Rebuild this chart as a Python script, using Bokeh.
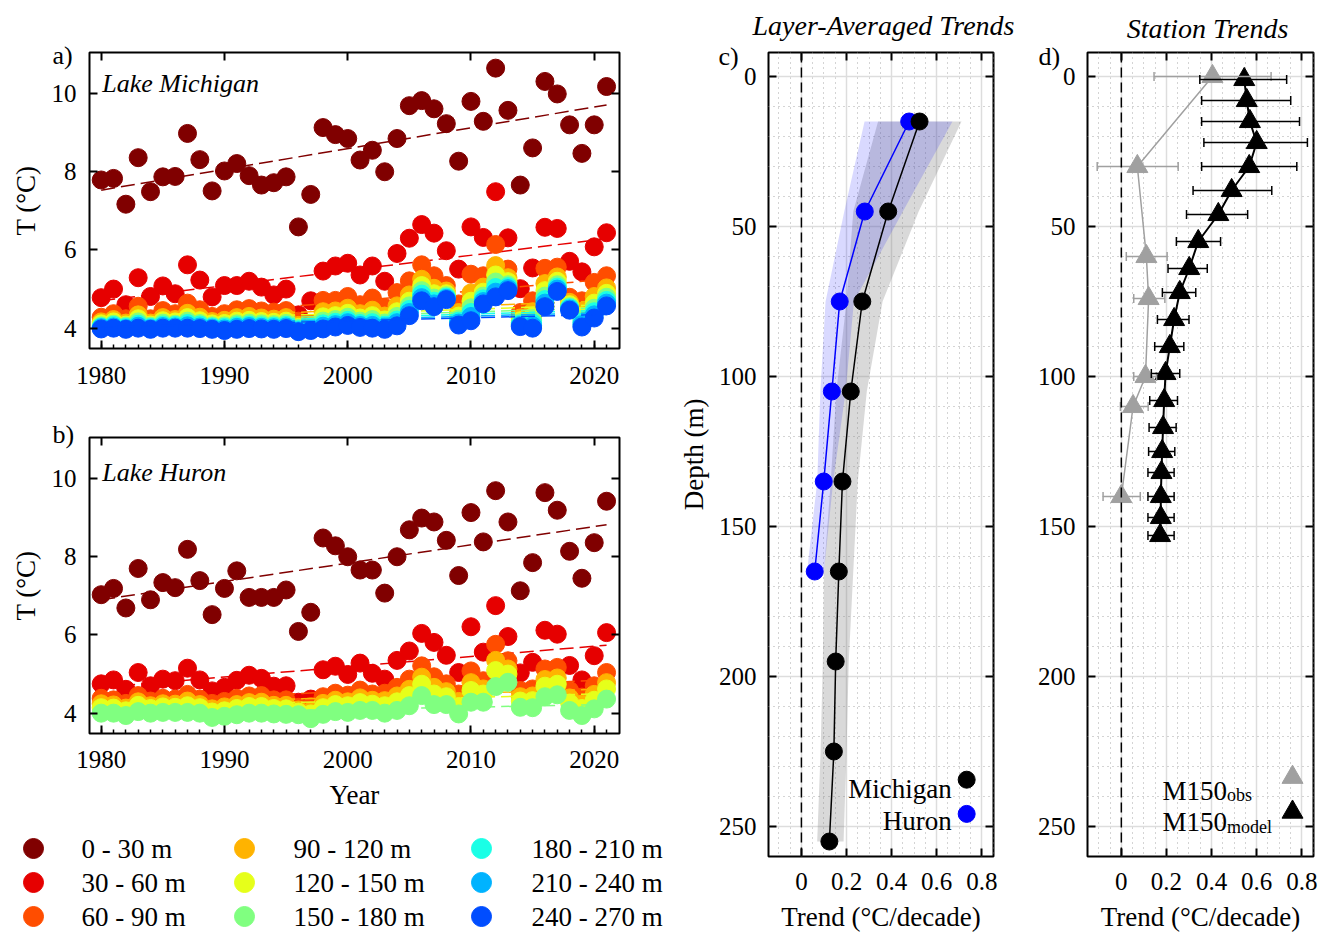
from bokeh.plotting import figure
from bokeh.models import (Range1d, FixedTicker, LinearAxis, Label, Span, Whisker,
                          ColumnDataSource, TeeHead)
from bokeh.layouts import row, column
from bokeh.embed import file_html
from bokeh.resources import INLINE
from bokeh.core.properties import value

FONT = "Liberation Serif"

# ------------------------------------------------------------------ data
YEARS = list(range(1980, 2022))
TREND_YEARS = [1980, 2021]
LAYER_NAMES = ["0 - 30 m", "30 - 60 m", "60 - 90 m", "90 - 120 m", "120 - 150 m",
               "150 - 180 m", "180 - 210 m", "210 - 240 m", "240 - 270 m"]
LAYER_COLORS = ["#800000", "#e60000", "#ff4d00", "#ffb300", "#e6ff1a",
                "#80ff80", "#1affe6", "#00b3ff", "#004dff"]

# Lake Michigan layer-mean temperatures (deg C), 1980-2021
MI_0_30 = [7.79, 7.83, 7.17, 8.36, 7.49, 7.87, 7.88, 8.98, 8.31, 7.51,
           8.02, 8.21, 7.90, 7.66, 7.72, 7.87, 6.59, 7.42, 9.13, 8.95,
           8.85, 8.30, 8.55, 8.00, 8.85, 9.69, 9.82, 9.61, 9.23, 8.27,
           9.80, 9.29, 10.65, 9.57, 7.66, 8.61, 10.31, 9.99, 9.20, 8.47,
           9.20, 10.18]
MI_30_60 = [4.78, 5.00, 4.60, 5.29, 4.81, 5.08, 4.88, 5.62, 5.23, 4.80,
            5.09, 5.09, 5.20, 5.05, 4.85, 5.00, 4.34, 4.70, 5.46, 5.59,
            5.66, 5.36, 5.59, 5.20, 5.91, 6.30, 6.65, 6.43, 5.98, 5.51,
            6.59, 6.32, 7.49, 6.31, 5.01, 5.54, 6.58, 6.55, 5.71, 5.44,
            6.08, 6.44]
MI_60_90 = [4.28, 4.37, 4.24, 4.56, 4.24, 4.45, 4.37, 4.64, 4.47, 4.30,
            4.37, 4.47, 4.50, 4.44, 4.41, 4.45, 4.18, 4.12, 4.71, 4.71,
            4.81, 4.60, 4.77, 4.53, 4.91, 5.21, 5.62, 5.34, 5.09, 4.62,
            5.38, 5.34, 6.14, 5.51, 4.40, 4.70, 5.53, 5.56, 4.79, 4.70,
            5.17, 5.34]
MI_90_120 = [4.16, 4.22, 4.13, 4.34, 4.13, 4.27, 4.22, 4.38, 4.28, 4.17,
             4.20, 4.27, 4.30, 4.26, 4.23, 4.27, 4.07, 4.05, 4.42, 4.44,
             4.51, 4.37, 4.46, 4.31, 4.57, 4.85, 5.25, 5.02, 4.95, 4.40,
             4.90, 5.05, 5.60, 5.29, 4.26, 4.42, 5.14, 5.31, 4.66, 4.43,
             4.81, 5.03]
MI_120_150 = [4.11, 4.16, 4.08, 4.24, 4.08, 4.19, 4.16, 4.27, 4.19, 4.11,
              4.12, 4.18, 4.20, 4.17, 4.15, 4.18, 4.02, 4.02, 4.29, 4.32,
              4.38, 4.26, 4.32, 4.21, 4.42, 4.69, 5.09, 4.88, 4.88, 4.31,
              4.69, 4.92, 5.36, 5.19, 4.19, 4.29, 4.96, 5.20, 4.60, 4.31,
              4.64, 4.89]
MI_150_180 = [4.06, 4.10, 4.05, 4.16, 4.05, 4.13, 4.10, 4.18, 4.12, 4.06,
              4.06, 4.11, 4.13, 4.11, 4.09, 4.12, 3.99, 3.99, 4.18, 4.22,
              4.28, 4.18, 4.22, 4.13, 4.30, 4.57, 4.96, 4.77, 4.83, 4.23,
              4.52, 4.82, 5.18, 5.11, 4.14, 4.20, 4.82, 5.11, 4.55, 4.22,
              4.51, 4.79]
MI_180_210 = [4.03, 4.07, 4.02, 4.10, 4.02, 4.08, 4.07, 4.12, 4.08, 4.03,
              4.02, 4.06, 4.08, 4.06, 4.05, 4.07, 3.96, 3.97, 4.11, 4.15,
              4.20, 4.12, 4.14, 4.07, 4.21, 4.48, 4.87, 4.69, 4.79, 4.18,
              4.40, 4.75, 5.04, 5.06, 4.10, 4.13, 4.73, 5.05, 4.52, 4.15,
              4.42, 4.71]
MI_210_240 = [4.01, 4.03, 3.99, 4.05, 3.99, 4.04, 4.03, 4.06, 4.03, 4.00,
              3.98, 4.02, 4.04, 4.02, 4.01, 4.03, 3.93, 3.96, 4.05, 4.09,
              4.14, 4.07, 4.07, 4.02, 4.14, 4.40, 4.78, 4.62, 4.76, 4.13,
              4.30, 4.68, 4.92, 5.01, 4.07, 4.06, 4.64, 5.00, 4.49, 4.09,
              4.34, 4.64]
MI_240_270 = [3.98, 4.00, 3.97, 4.00, 3.97, 4.00, 4.00, 4.00, 3.99, 3.97,
              3.94, 3.97, 3.99, 3.98, 3.97, 3.99, 3.91, 3.94, 3.98, 4.03,
              4.07, 4.02, 4.00, 3.97, 4.06, 4.32, 4.70, 4.55, 4.73, 4.08,
              4.19, 4.62, 4.80, 4.96, 4.04, 4.00, 4.55, 4.94, 4.46, 4.03,
              4.26, 4.57]
MICHIGAN = [MI_0_30, MI_30_60, MI_60_90, MI_90_120, MI_120_150,
            MI_150_180, MI_180_210, MI_210_240, MI_240_270]
MI_TREND_1980 = [7.53, 4.70, 4.14, 4.22, 4.17, 4.13, 4.09, 4.06, 4.03]
MI_TREND_2021 = [9.71, 6.29, 5.25, 4.70, 4.60, 4.52, 4.46, 4.40, 4.35]

# Lake Huron layer-mean temperatures (deg C), 1980-2021
HU_0_30 = [7.03, 7.19, 6.69, 7.70, 6.90, 7.34, 7.21, 8.19, 7.39, 6.52,
           7.19, 7.64, 6.96, 6.96, 6.96, 7.15, 6.09, 6.58, 8.48, 8.28,
           8.00, 7.66, 7.66, 7.07, 8.00, 8.69, 8.99, 8.89, 8.42, 7.52,
           9.13, 8.38, 9.69, 8.89, 7.13, 7.85, 9.64, 9.19, 8.14, 7.45,
           8.36, 9.42]
HU_30_60 = [4.75, 4.85, 4.61, 5.04, 4.70, 4.87, 4.83, 5.15, 4.85, 4.57,
            4.66, 4.84, 4.97, 4.89, 4.69, 4.70, 4.28, 4.36, 5.11, 5.20,
            4.99, 5.28, 5.02, 4.87, 5.35, 5.59, 6.04, 5.81, 5.48, 5.04,
            6.21, 5.56, 6.75, 5.96, 5.03, 5.30, 6.12, 6.02, 5.22, 4.85,
            5.47, 6.06]
HU_60_90 = [4.38, 4.34, 4.25, 4.45, 4.31, 4.38, 4.36, 4.48, 4.36, 4.25,
            4.30, 4.38, 4.44, 4.45, 4.34, 4.34, 4.15, 4.17, 4.42, 4.51,
            4.46, 4.59, 4.49, 4.51, 4.66, 4.87, 5.21, 4.93, 4.75, 4.49,
            5.08, 4.83, 5.76, 5.34, 4.58, 4.62, 5.13, 5.17, 4.58, 4.41,
            4.70, 5.04]
HU_90_120 = [4.24, 4.21, 4.13, 4.29, 4.19, 4.24, 4.23, 4.31, 4.22, 4.11,
             4.16, 4.22, 4.27, 4.28, 4.20, 4.20, 4.08, 4.05, 4.25, 4.33,
             4.29, 4.39, 4.33, 4.32, 4.44, 4.61, 4.92, 4.66, 4.55, 4.30,
             4.78, 4.62, 5.35, 5.13, 4.42, 4.44, 4.86, 4.90, 4.39, 4.23,
             4.48, 4.78]
HU_120_150 = [4.14, 4.13, 4.06, 4.20, 4.12, 4.16, 4.15, 4.19, 4.14, 4.03,
              4.06, 4.12, 4.17, 4.17, 4.12, 4.11, 4.03, 3.98, 4.14, 4.22,
              4.19, 4.27, 4.23, 4.19, 4.29, 4.45, 4.74, 4.49, 4.42, 4.17,
              4.58, 4.49, 5.09, 5.00, 4.31, 4.32, 4.69, 4.74, 4.26, 4.12,
              4.33, 4.62]
HU_150_180 = [4.00, 4.00, 3.94, 4.04, 4.00, 4.02, 4.02, 4.02, 4.00, 3.89,
              3.92, 3.96, 4.00, 4.00, 3.98, 3.97, 3.96, 3.86, 3.97, 4.04,
              4.02, 4.07, 4.07, 4.00, 4.07, 4.19, 4.45, 4.22, 4.22, 3.98,
              4.28, 4.28, 4.68, 4.79, 4.15, 4.14, 4.42, 4.47, 4.07, 3.94,
              4.11, 4.36]
HURON = [HU_0_30, HU_30_60, HU_60_90, HU_90_120, HU_120_150, HU_150_180]
HU_TREND_1980 = [6.90, 4.66, 4.28, 4.20, 4.13, 3.98]
HU_TREND_2021 = [8.82, 5.74, 4.85, 4.62, 4.50, 4.22]

# Panel c: layer-averaged trends (deg C / decade) with uncertainty band
C_DEPTH_MI = [15, 45, 75, 105, 135, 165, 195, 225, 255]
C_TREND_MI = [0.524, 0.385, 0.270, 0.219, 0.182, 0.166, 0.152, 0.144, 0.124]
C_LO_MI = [0.34, 0.23, 0.20, 0.155, 0.13, 0.10, 0.095, 0.085, 0.07]
C_HI_MI = [0.71, 0.52, 0.36, 0.29, 0.25, 0.23, 0.21, 0.20, 0.187]
C_DEPTH_HU = [15, 45, 75, 105, 135, 165]
C_TREND_HU = [0.478, 0.281, 0.170, 0.135, 0.099, 0.059]
C_LO_HU = [0.28, 0.19, 0.107, 0.084, 0.07, 0.025]
C_HI_HU = [0.67, 0.45, 0.233, 0.196, 0.141, 0.10]

# Panel d: station M150 trends with error bars
D_DEPTH_MOD = [1, 8, 15, 22, 30, 38, 46, 55, 64, 72, 81, 90, 99, 108, 117, 125, 132, 140, 147, 153]
D_TREND_MOD = [0.545, 0.556, 0.570, 0.600, 0.567, 0.489, 0.430, 0.341, 0.301, 0.259,
               0.234, 0.215, 0.196, 0.190, 0.185, 0.181, 0.178, 0.175, 0.175, 0.172]
D_LO_MOD = [0.348, 0.356, 0.356, 0.366, 0.356, 0.318, 0.289, 0.244, 0.207, 0.182,
            0.160, 0.148, 0.133, 0.126, 0.123, 0.121, 0.118, 0.118, 0.118, 0.118]
D_HI_MOD = [0.733, 0.751, 0.790, 0.825, 0.778, 0.667, 0.560, 0.440, 0.381, 0.330,
            0.300, 0.277, 0.259, 0.249, 0.243, 0.237, 0.234, 0.234, 0.234, 0.234]
D_DEPTH_OBS = [0, 30, 60, 74, 100, 110, 140]
D_TREND_OBS = [0.404, 0.071, 0.111, 0.121, 0.107, 0.052, 0.0]
D_LO_OBS = [0.145, -0.107, 0.022, 0.055, 0.055, -0.004, -0.081]
D_HI_OBS = [0.664, 0.252, 0.203, 0.193, 0.156, 0.119, 0.084]

GRAY = "#a0a0a0"
PANEL_TAGS = ["a)", "b)", "c)", "d)"]
PANEL_TITLES = ["Layer-Averaged Trends", "Station Trends"]


# ------------------------------------------------------------------ helpers
def style_axis(ax, labels=True, standoff=12, tick_in=8, minor=False):
    ax.axis_line_color = None
    ax.major_tick_in = tick_in
    ax.major_tick_out = 0
    ax.major_tick_line_width = 2
    ax.major_tick_line_color = "black"
    ax.minor_tick_in = 4
    ax.minor_tick_out = 0
    ax.minor_tick_line_width = 1.5
    if not minor:
        ax.minor_tick_line_color = None
    ax.major_label_text_font = FONT
    if labels:
        ax.major_label_text_color = "black"
        ax.major_label_text_font_size = "25px"
        ax.major_label_standoff = standoff
    else:
        ax.major_label_text_color = None
        ax.major_label_text_font_size = "1px"
        ax.major_label_standoff = 0
    ax.axis_label_text_font = FONT
    ax.axis_label_text_font_size = "27px"
    ax.axis_label_text_font_style = "normal"
    ax.axis_label_text_color = "black"


def txt(p, x, y, s, size="27px", style="normal", align="left"):
    p.add_layout(Label(x=x, y=y, text=s, text_font=FONT, text_font_size=size,
                       text_font_style=style, text_align=align,
                       text_baseline="alphabetic", text_color="black"))


def ts_panel(layers, t0, t1, lake, lake_y, mb_top, mb_bottom, xlabel, xstand):
    p = figure(frame_width=530, frame_height=296,
               min_border_left=89, min_border_right=56,
               min_border_top=mb_top, min_border_bottom=mb_bottom,
               x_range=Range1d(1979.05, 2022.05), y_range=Range1d(3.48, 11.05),
               output_backend="svg", toolbar_location=None, frame_align=False)
    p.outline_line_color = "black"
    p.outline_line_width = 2
    p.xgrid.visible = False
    p.ygrid.visible = False
    majors = [1980, 1990, 2000, 2010, 2020]
    p.xaxis.ticker = FixedTicker(ticks=majors, minor_ticks=YEARS)
    p.yaxis.ticker = FixedTicker(ticks=[4, 6, 8, 10], minor_ticks=[])
    style_axis(p.xaxis[0], standoff=xstand, minor=True)
    style_axis(p.yaxis[0], standoff=13)
    p.yaxis.axis_label = "T (°C)"
    p.yaxis.axis_label_standoff = 8
    if xlabel:
        p.xaxis.axis_label = xlabel
        p.xaxis.axis_label_standoff = 9
    top = LinearAxis(ticker=FixedTicker(ticks=majors, minor_ticks=[]))
    style_axis(top, labels=False)
    p.add_layout(top, "above")
    right = LinearAxis(ticker=FixedTicker(ticks=[4, 6, 8, 10], minor_ticks=[]))
    style_axis(right, labels=False)
    p.add_layout(right, "right")
    for i, vals in enumerate(layers):
        c = LAYER_COLORS[i]
        p.scatter(YEARS, vals, size=18, fill_color=c, line_color=c)
        p.line(TREND_YEARS, [t0[i], t1[i]], line_color=c, line_width=1.5, line_dash="14 6")
    txt(p, 1980.08, lake_y, lake, size="26px", style="italic")
    return p


def profile_panel(frame_w, mb_left, mb_right, x_lo, ylabel):
    p = figure(frame_width=frame_w, frame_height=804,
               min_border_left=mb_left, min_border_right=mb_right,
               min_border_top=52, min_border_bottom=77,
               x_range=Range1d(x_lo, 0.852), y_range=Range1d(260, -8),
               output_backend="svg", toolbar_location=None, frame_align=False)
    p.outline_line_color = "black"
    p.outline_line_width = 2
    xmaj = [0, 0.2, 0.4, 0.6, 0.8]
    xmin = [-0.1, -0.05, 0.05, 0.1, 0.15, 0.25, 0.3, 0.35, 0.45, 0.5, 0.55, 0.65, 0.7, 0.75, 0.85]
    ymaj = [0, 50, 100, 150, 200, 250]
    ymin = [d for d in range(10, 260, 10) if d % 50 != 0]
    xt = FixedTicker(ticks=xmaj, minor_ticks=xmin)
    yt = FixedTicker(ticks=ymaj, minor_ticks=ymin)
    p.xaxis.ticker = xt
    p.yaxis.ticker = yt
    p.xgrid.ticker = xt
    p.ygrid.ticker = yt
    for g in (p.xgrid[0], p.ygrid[0]):
        g.grid_line_color = "#dddddd"
        g.grid_line_width = 1.5
        g.minor_grid_line_color = "#a8a8a8"
        g.minor_grid_line_dash = "1 4"
        g.minor_grid_line_width = 1
    style_axis(p.xaxis[0], standoff=16)
    style_axis(p.yaxis[0], standoff=12)
    p.xaxis.major_label_overrides = {0: "0", 0.2: "0.2", 0.4: "0.4", 0.6: "0.6", 0.8: "0.8"}
    p.xaxis.axis_label = "Trend (°C/decade)"
    p.xaxis.axis_label_standoff = 9
    if ylabel:
        p.yaxis.axis_label = ylabel
        p.yaxis.axis_label_standoff = 7
    top = LinearAxis(ticker=FixedTicker(ticks=xmaj, minor_ticks=[]))
    style_axis(top, labels=False)
    p.add_layout(top, "above")
    right = LinearAxis(ticker=FixedTicker(ticks=ymaj, minor_ticks=[]))
    style_axis(right, labels=False)
    p.add_layout(right, "right")
    p.add_layout(Span(location=0, dimension="height", line_color="black",
                      line_width=1.5, line_dash="10 5"))
    return p


# ------------------------------------------------------------------ panels a, b
fig_a = ts_panel(MICHIGAN, MI_TREND_1980, MI_TREND_2021, "Lake Michigan", 10.25, 52, 46, None, 18)
fig_b = ts_panel(HURON, HU_TREND_1980, HU_TREND_2021, "Lake Huron", 10.16, 43, 90, "Year", 17)

# ------------------------------------------------------------------ legend for a, b
leg = figure(width=675, height=110, x_range=Range1d(0, 675), y_range=Range1d(110, 0),
             x_axis_type=None, y_axis_type=None, output_backend="svg",
             toolbar_location=None, min_border=0, frame_align=False)
leg.outline_line_color = None
LEG_KEY_X = [33, 244, 481]
LEG_TEXT_X = [81, 293, 531]
LEG_ROW_Y = [25, 59, 93]
kx, ky, tx = [], [], []
for i in range(len(LAYER_NAMES)):
    col, r = divmod(i, 3)
    kx.append(LEG_KEY_X[col])
    ky.append(LEG_ROW_Y[r])
    tx.append(LEG_TEXT_X[col])
leg.scatter(kx, ky, size=20, fill_color=LAYER_COLORS, line_color=LAYER_COLORS)
leg.text(tx, ky, text=LAYER_NAMES, text_font=value(FONT), text_font_size=value("27px"),
         text_baseline="middle", text_color="black")

# ------------------------------------------------------------------ panel c
fig_c = profile_panel(225, 93, 40, -0.146, "Depth (m)")
fig_c.harea(x1=C_LO_MI, x2=C_HI_MI, y=C_DEPTH_MI, fill_color="#808080", fill_alpha=0.3)
fig_c.harea(x1=C_LO_HU, x2=C_HI_HU, y=C_DEPTH_HU, fill_color="#0000ff", fill_alpha=0.15)
fig_c.line(C_TREND_HU, C_DEPTH_HU, line_color="#0000ff", line_width=1.5)
fig_c.scatter(C_TREND_HU, C_DEPTH_HU, size=17, fill_color="#0000ff", line_color="#0000ff")
fig_c.line(C_TREND_MI, C_DEPTH_MI, line_color="black", line_width=1.5)
fig_c.scatter(C_TREND_MI, C_DEPTH_MI, size=17, fill_color="black", line_color="black")
# legend (text left of key)
LEGC_KEY_X, LEGC_TEXT_X = 0.733, 0.667
LEGC_ROWS = [(234.4, 237.4), (245.8, 248.3)]
fig_c.scatter([LEGC_KEY_X, LEGC_KEY_X], [LEGC_ROWS[0][0], LEGC_ROWS[1][0]], size=17,
              fill_color=["black", "#0000ff"], line_color=["black", "#0000ff"])
txt(fig_c, LEGC_TEXT_X, LEGC_ROWS[0][1], "Michigan", align="right")
txt(fig_c, LEGC_TEXT_X, LEGC_ROWS[1][1], "Huron", align="right")

# ------------------------------------------------------------------ panel d
fig_d = profile_panel(226, 54, 5, -0.15, None)
for depth, lo, hi, trend, col, lw in [
        (D_DEPTH_OBS, D_LO_OBS, D_HI_OBS, D_TREND_OBS, GRAY, 1.5),
        (D_DEPTH_MOD, D_LO_MOD, D_HI_MOD, D_TREND_MOD, "black", 2)]:
    src = ColumnDataSource(dict(d=depth, lo=lo, hi=hi))
    fig_d.add_layout(Whisker(source=src, base="d", lower="lo", upper="hi", dimension="width",
                             line_color=col, line_width=1.5, level="glyph",
                             upper_head=TeeHead(size=9, line_color=col, line_width=1.5),
                             lower_head=TeeHead(size=9, line_color=col, line_width=1.5)))
    fig_d.line(trend, depth, line_color=col, line_width=lw)
    fig_d.scatter(trend, depth, marker="triangle", size=21, fill_color=col, line_color=col)
LEGD_KEY_X = 0.759
fig_d.scatter([LEGD_KEY_X, LEGD_KEY_X], [233.6, 245.2], marker="triangle", size=21,
              fill_color=[GRAY, "black"], line_color=[GRAY, "black"])
txt(fig_d, 0.182, 238.0, "M150")
txt(fig_d, 0.468, 239.4, "obs", size="18px")
txt(fig_d, 0.182, 248.5, "M150")
txt(fig_d, 0.468, 250.3, "model", size="18px")

# ------------------------------------------------------------------ overlay for panel tags / titles
overlay = figure(width=1318, height=933, x_range=Range1d(0, 1318), y_range=Range1d(933, 0),
                 x_axis_type=None, y_axis_type=None, min_border=0, toolbar_location=None,
                 output_backend="svg", frame_align=False,
                 background_fill_alpha=0, border_fill_alpha=0,
                 styles={"position": "absolute", "left": "0px", "top": "0px",
                         "pointer-events": "none"})
overlay.outline_line_color = None
TAG_X = [52, 52, 718, 1038]
TAG_Y = [55, 434, 56, 56]
overlay.text(TAG_X, TAG_Y, text=PANEL_TAGS, text_font=value(FONT), text_font_size=value("26px"),
             text_baseline="alphabetic", text_color="black")
TITLE_X = [883, 1207]
TITLE_Y = [25, 28]
overlay.text(TITLE_X, TITLE_Y, text=PANEL_TITLES, text_font=value(FONT),
             text_font_size=value("28px"), text_font_style="italic",
             text_align="center", text_baseline="alphabetic", text_color="black")

layout = column(row(column(fig_a, fig_b, leg), fig_c, fig_d), overlay)
open("out.html", "w").write(file_html(layout, INLINE))
